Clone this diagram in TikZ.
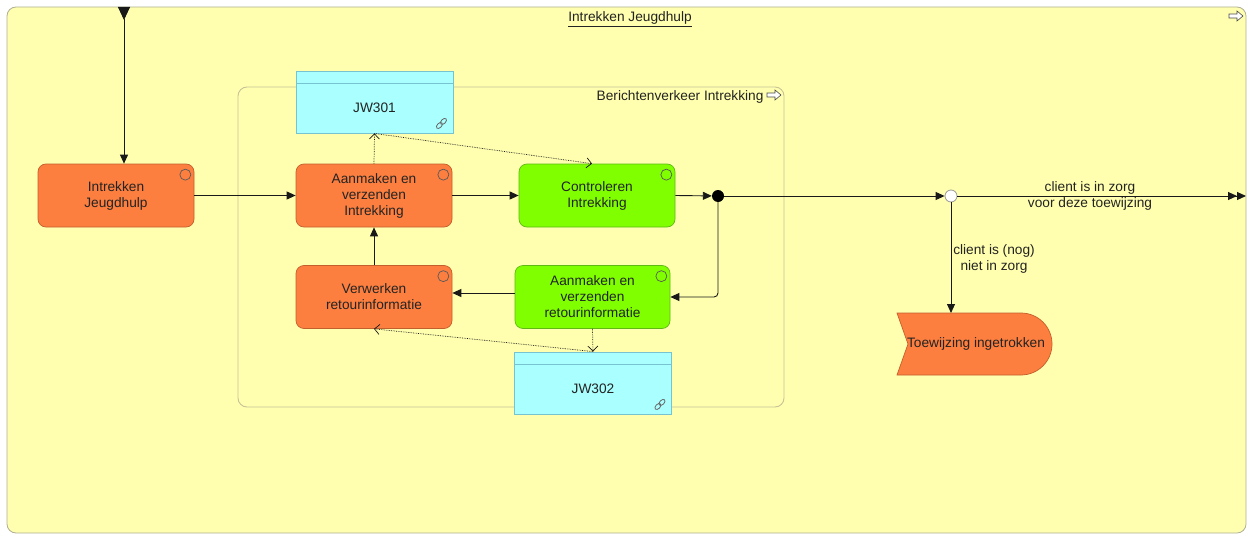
\documentclass[tikz,border=0pt]{standalone}
\usepackage{fontspec}
\setmainfont{Liberation Sans}
\usetikzlibrary{arrows.meta,calc}
\definecolor{bgyel}{RGB}{255,255,175}
\definecolor{frameb}{RGB}{175,175,150}
\definecolor{grpb}{RGB}{200,195,150}
\definecolor{orfill}{RGB}{253,127,63}
\definecolor{orbord}{RGB}{195,95,45}
\definecolor{grfill}{RGB}{128,255,0}
\definecolor{grbord}{RGB}{95,185,20}
\definecolor{cyfill}{RGB}{170,255,255}
\definecolor{cybord}{RGB}{120,195,210}
\definecolor{txt}{RGB}{35,35,35}
\begin{document}
\begin{tikzpicture}[x=1pt,y=-1pt,
  font=\fontsize{13.7}{16}\selectfont,
  every node/.style={text=txt},
  pool/.style={rectangle, rounded corners=9pt, draw=frameb, fill=bgyel, line width=0.8pt, minimum width=1239pt, minimum height=526pt},
  grp/.style={rectangle, rounded corners=9pt, draw=grpb, line width=0.9pt, minimum width=546pt, minimum height=320pt},
  task/.style={rectangle, rounded corners=8pt, draw=orbord, fill=orfill, line width=0.7pt, minimum width=156pt, minimum height=63pt, align=center, inner sep=2pt},
  gtask/.style={task, draw=grbord, fill=grfill},
  datab/.style={rectangle, draw=cybord, fill=cyfill, line width=0.9pt, minimum width=157pt, minimum height=62pt,
     path picture={\draw[cybord, line width=0.9pt] ([yshift=-12pt]path picture bounding box.north west) -- ([yshift=-12pt]path picture bounding box.north east);}},
  flow/.style={draw=black!90, line width=0.9pt, -{Triangle[length=9pt,width=8pt]}},
  access/.style={draw=black!90, densely dotted, line width=0.7pt, -{Straight Barb[length=5pt,width=10pt]}},
  icon/.style={draw=black!65, line width=0.7pt},
  linkc/.style={draw=black!60, line width=0.8pt}
]
\useasboundingbox (0,0) rectangle (1247,535);

\newcommand\taskicon[1]{\draw[icon] ([xshift=-9pt,yshift=-11pt]#1.north east) circle[radius=5.5pt];}
\newcommand\linkicon[1]{%
  \coordinate (#1lk) at ([xshift=-12pt,yshift=10pt]#1.south east);
  \begin{scope}[shift={(#1lk)}]
    \draw[linkc, rotate=45] (-2.9,0) ellipse[x radius=3.6pt, y radius=2.2pt];
    \draw[linkc, rotate=45] (2.9,0) ellipse[x radius=3.6pt, y radius=2.2pt];
  \end{scope}}
\newcommand\hollowarrow[1]{%
  \draw[draw=black!70, fill=white, line width=0.6pt] ($(#1)+(-7pt,2pt)$) -- ++(8pt,0) -- ++(0,3pt) -- ++(6pt,-5pt) -- ++(-6pt,-5pt) -- ++(0,3pt) -- ++(-8pt,0) -- cycle;}

% pool and group
\node[pool] (pool) at (626.5,270) {};
\node (title) at (630,19) {\underline{Intrekken Jeugdhulp}};
\coordinate (poolarr) at (1236,16);
\hollowarrow{poolarr}

\node[grp] (grp) at (511,247) {};
\node[anchor=east] (grplbl) at (767,97) {Berichtenverkeer Intrekking};
\coordinate (grparr) at (774,95);
\hollowarrow{grparr}

% tasks
\node[task] (ij) at (116,195.5) {Intrekken\\Jeugdhulp};
\node[task] (av) at (374,195.5) {Aanmaken en\\verzenden\\Intrekking};
\node[gtask] (ctl) at (597,195.5) {Controleren\\Intrekking};
\node[task] (vr) at (374,297) {Verwerken\\retourinformatie};
\node[gtask, minimum width=155pt] (ar) at (592.5,297) {Aanmaken en\\verzenden\\retourinformatie};
\taskicon{ij}\taskicon{av}\taskicon{ctl}\taskicon{vr}\taskicon{ar}

% data objects
\node[datab] (jw1) at (374.5,102) {\raisebox{-6pt}[\height][\depth]{JW301}};
\node[datab] (jw2) at (593,383) {\raisebox{-6pt}[\height][\depth]{JW302}};
\linkicon{jw1}\linkicon{jw2}

% junction and gateway
\node[circle, fill=black, minimum size=12pt, inner sep=0pt] (jn) at (718,196) {};
\node[circle, fill=white, draw=black!40, line width=0.8pt, minimum size=12pt, inner sep=0pt] (gw) at (951,196) {};

% end event
\fill[orfill, draw=orbord, line width=0.7pt] (897,313) -- (908,344) -- (897,375) -- (1021,375)
   .. controls (1038.1,375) and (1052,361.1) .. (1052,344)
   .. controls (1052,326.9) and (1038.1,313) .. (1021,313) -- cycle;
\node (tw) at (976,344) {Toewijzing ingetrokken};

% labels
\node[align=center] (lbl1) at (1090,196) {client is in zorg\\voor deze toewijzing};
\node[align=center] (lbl2) at (994,259) {client is (nog)\\niet in zorg};

% connectors
\coordinate (st) at (124,7);
\coordinate (endp) at (1246,196);
\draw[flow, {Triangle[reversed,length=13pt,width=12pt]}-{Triangle[length=9pt,width=8pt]}] (st) -- (st |- ij.north);
\draw[flow] (ij.east) -- (av.west);
\draw[flow] (av.east) -- (ctl.west);
\draw[flow] (ctl.east) -- (jn);
\draw[flow] (jn) -- (gw);
\draw[flow, -{Triangle[length=9pt,width=8pt]Triangle[length=9pt,width=8pt]}] (gw) -- (endp);
\draw[flow, rounded corners=4pt] (jn) |- (ar.east);
\draw[flow] ([yshift=4pt]ar.west) -- ([yshift=4pt]vr.east);
\draw[flow] (vr.north) -- (av.south);
\draw[flow] (gw) -- (gw |- 0,313);
\draw[access] (av.north) -- (jw1.south);
\draw[access] (jw1.south) -- ([xshift=-5pt]ctl.north);
\draw[access] (ar.south) -- (jw2.north);
\draw[access] (jw2.north) -- (vr.south);
\end{tikzpicture}
\end{document}
